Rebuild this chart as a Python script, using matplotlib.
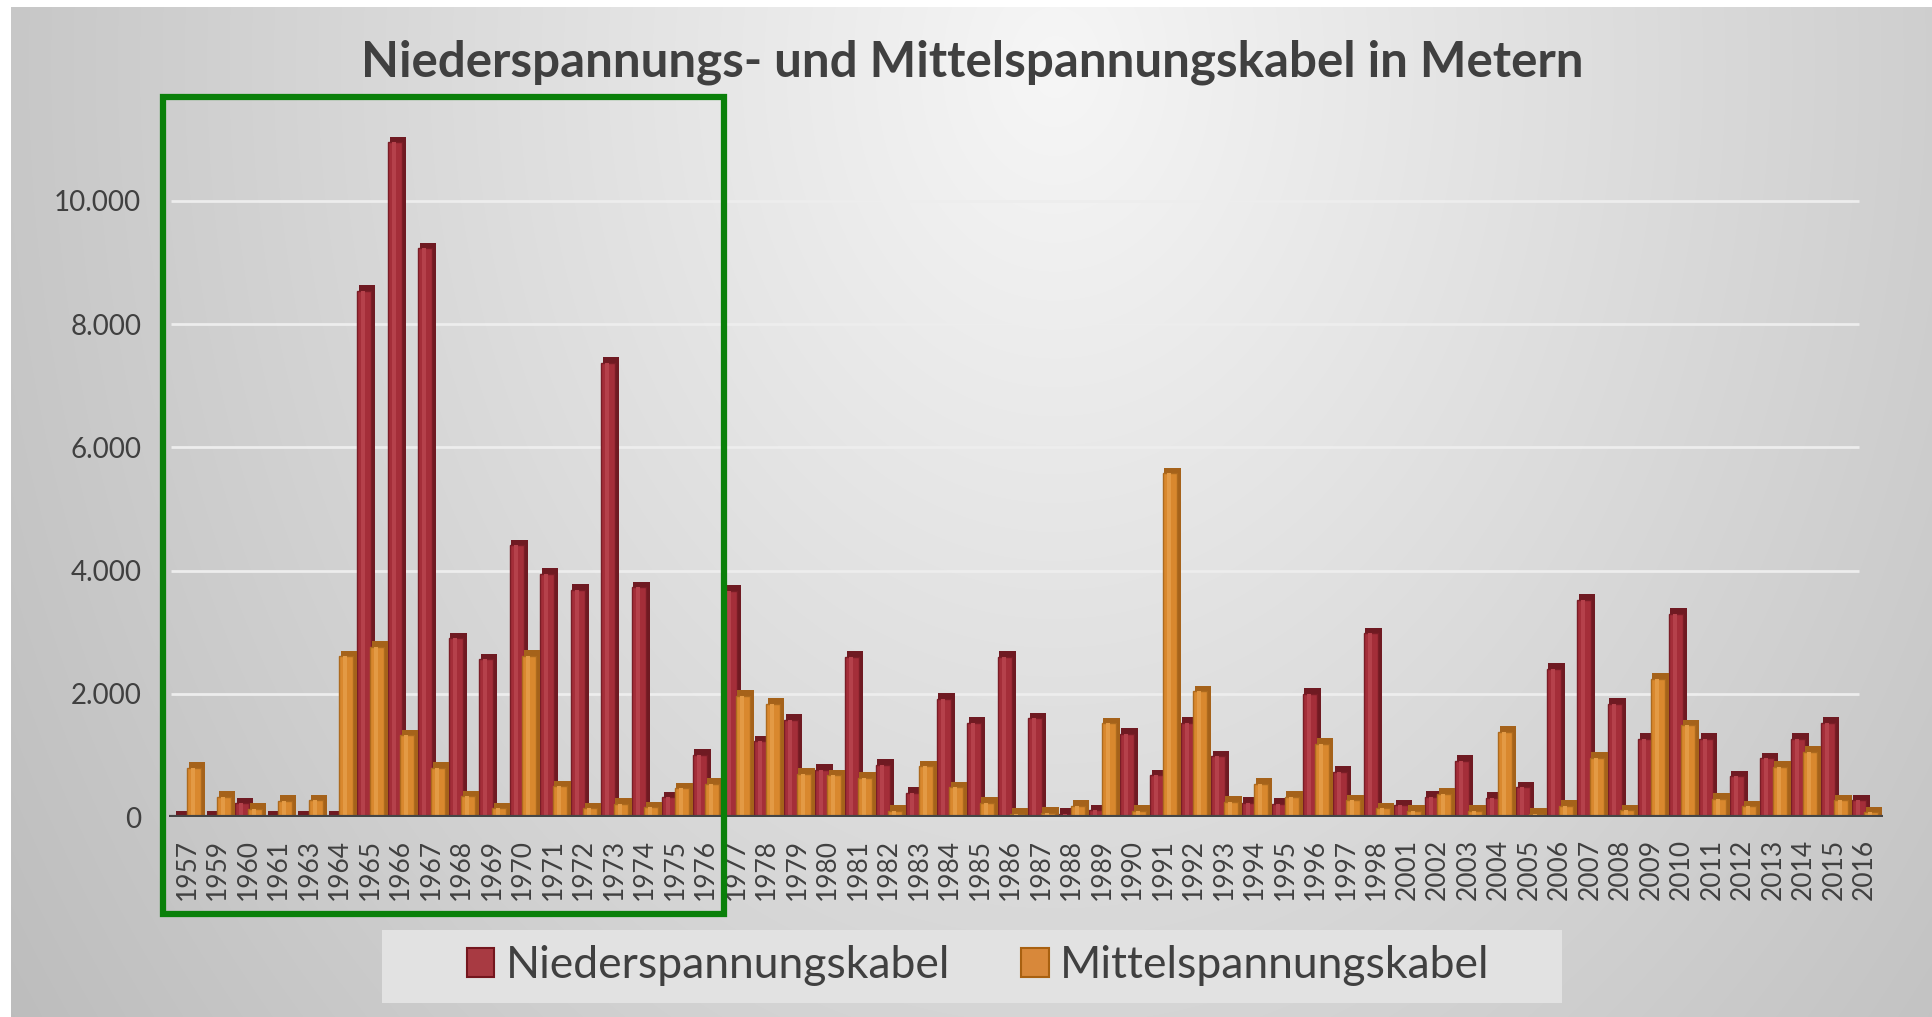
import numpy as np
import matplotlib
matplotlib.use("Agg")
import matplotlib.pyplot as plt
from matplotlib.patches import Patch, Rectangle
from matplotlib.ticker import FuncFormatter

plt.rcParams["font.family"] = ["Lato", "DejaVu Sans"]

# data (metres per year)
YEARS = ["1957", "1959", "1960", "1961", "1963", "1964",
         "1965", "1966", "1967", "1968", "1969", "1970", "1971", "1972",
         "1973", "1974", "1975", "1976", "1977", "1978", "1979", "1980",
         "1981", "1982", "1983", "1984", "1985", "1986", "1987", "1988",
         "1989", "1990", "1991", "1992", "1993", "1994", "1995", "1996",
         "1997", "1998", "2001", "2002", "2003", "2004", "2005", "2006",
         "2007", "2008", "2009", "2010", "2011", "2012", "2013", "2014",
         "2015", "2016"]
NIEDER = [15, 15, 220, 15, 15, 15,
          8540, 10950, 9230, 2900, 2560, 4410, 3950, 3690, 7370, 3730, 320, 1010,
          3670, 1230, 1580, 770, 2600, 850, 390, 1920, 1530, 2600, 1600, 55,
          110, 1350, 680, 1530, 985, 235, 215, 2000, 735, 2980,
          190, 325, 910, 315, 480, 2410, 3530, 1840, 1270, 3300, 1270, 660,
          950, 1270, 1530, 270]
MITTEL = [800, 330, 130, 260, 270, 2610,
          2760, 1330, 800, 340, 145, 2620, 500, 145, 215, 155, 465, 540,
          1970, 1840, 700, 680, 640, 100, 820, 480, 235, 55, 65, 185,
          1520, 100, 5580, 2040, 245, 540, 330, 1190, 270, 140,
          100, 380, 100, 1380, 50, 185, 960, 110, 2240, 1490, 295, 175,
          815, 1060, 270, 80]
SERIES = ["Niederspannungskabel", "Mittelspannungskabel"]

W, H = 1932, 1017
TXT = "#404040"
RED = dict(face="#a42e39", hi="#b5414b", side="#6f1a22", edge="#7a1d26")
ORA = dict(face="#d9882e", hi="#e39a45", side="#a5621a", edge="#ad6a1e")


def draw_series(ax, x, vals, c, x0, z):
    vals = np.asarray(vals, float)
    cap = 90
    # side face (darker) and top cap, then the front face with a highlight
    ax.bar(x + x0 + 0.44, vals + cap * 0.6, width=0.16, align="edge",
           color=c["side"], linewidth=0, zorder=z)
    ax.bar(x + x0 + 0.06, np.full_like(vals, cap), bottom=vals, width=0.54,
           align="edge", color=c["side"], linewidth=0, zorder=z)
    ax.bar(x + x0, vals, width=0.46, align="edge", color=c["face"],
           edgecolor=c["edge"], linewidth=1.0, zorder=z + 0.1)
    ax.bar(x + x0 + 0.14, vals, width=0.12, align="edge", color=c["hi"],
           linewidth=0, zorder=z + 0.2)


fig = plt.figure(figsize=(W / 100, H / 100), dpi=100)
fig.patch.set_facecolor("white")

# grey radial background, like the Office chart style
bg = fig.add_axes([11 / W, 0, 1 - 11 / W, 1 - 7 / H], zorder=-10)
yy, xx = np.mgrid[0:H, 0:W]
r = np.sqrt(((xx - 1050) / 1000.0) ** 2 + ((yy - 60) / 1300.0) ** 2)
v = np.clip(0.965 - 0.175 * r, 0, 1)
bg.imshow(np.dstack([v, v, v]), aspect="auto", extent=[0, 1, 0, 1])
bg.axis("off")

ax = fig.add_axes([169 / W, (H - 817) / H, (1883 - 169) / W, 690 / H])
ax.patch.set_alpha(0)
x = np.arange(len(YEARS))
draw_series(ax, x, NIEDER, RED, -0.43, 3)
draw_series(ax, x, MITTEL, ORA, -0.02, 4)

ax.set_xlim(-0.6, len(YEARS) - 0.4)
ax.set_ylim(0, 11200)
ax.set_yticks([0, 2000, 4000, 6000, 8000, 10000])
ax.yaxis.set_major_formatter(FuncFormatter(lambda v, p: f"{int(v):,}".replace(",", ".")))
for gy in [2000, 4000, 6000, 8000, 10000]:
    ax.plot([-0.55, len(YEARS) - 1.2], [gy, gy], color="#ededed", linewidth=2.0,
            zorder=0, solid_capstyle="butt")
ax.axhline(0, color="#454545", linewidth=3, zorder=6)
ax.set_xticks(x)
ax.set_xticklabels(YEARS, rotation=90)
ax.tick_params(axis="x", length=0, pad=16, labelsize=19, labelcolor=TXT)
ax.tick_params(axis="y", length=0, pad=20, labelsize=20, labelcolor=TXT)
for s in ax.spines.values():
    s.set_visible(False)

fig.text(972 / W, 1 - 62 / H, "Niederspannungs- und Mittelspannungskabel in Metern",
         ha="center", va="center", fontsize=35.5, fontweight="bold", color=TXT)

# legend box and entries
fig.patches.append(Rectangle((382 / W, (H - 1003) / H), 1180 / W, 73 / H,
                             transform=fig.transFigure, facecolor="#e2e2e2",
                             edgecolor="none", zorder=1))
handles = [Patch(facecolor="#a83a42", edgecolor="#74161e", linewidth=1.5, label=SERIES[0]),
           Patch(facecolor="#d8883a", edgecolor="#a86010", linewidth=1.5, label=SERIES[1])]
fig.legend(handles=handles, loc="center", bbox_to_anchor=(978 / W, 1 - 966 / H),
           ncol=2, frameon=False, fontsize=32, labelcolor=TXT,
           handlelength=0.62, handleheight=0.62, handletextpad=0.25,
           columnspacing=1.6)

# green highlight frame around 1957-1976
fig.patches.append(Rectangle((163 / W, (H - 914) / H), 561 / W, 817 / H,
                             transform=fig.transFigure, fill=False,
                             edgecolor="#0a800a", linewidth=4.5, zorder=20))

fig.savefig("out.png", dpi=100)
